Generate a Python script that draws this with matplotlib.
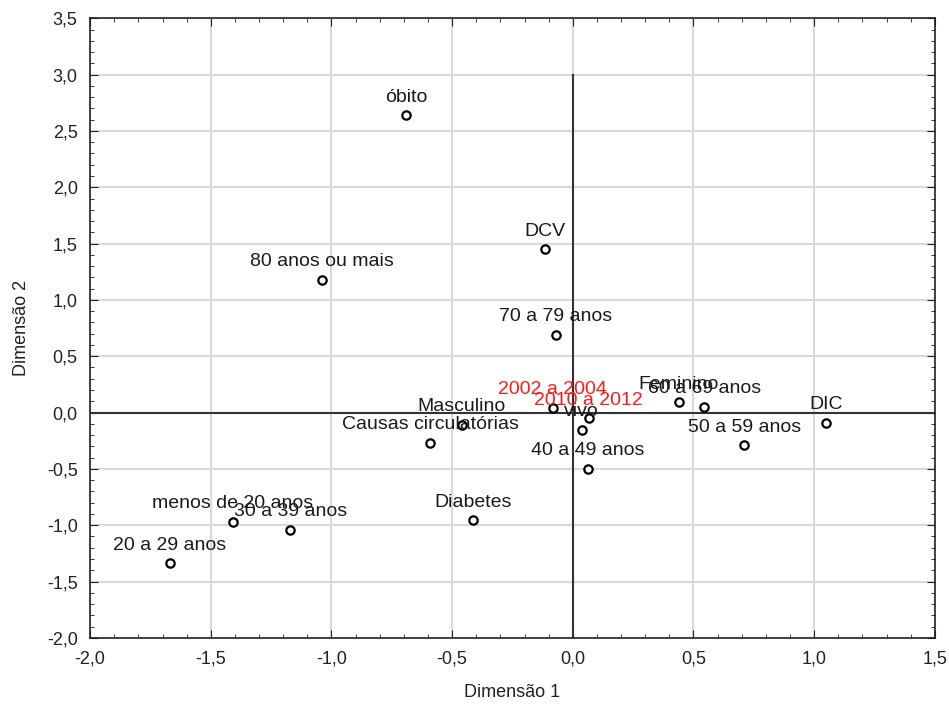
import matplotlib
matplotlib.use("Agg")
import matplotlib.pyplot as plt
from matplotlib.ticker import MultipleLocator, FuncFormatter

plt.rcParams['font.family'] = ['Liberation Sans', 'DejaVu Sans']

# categorias ativas
labels = ["óbito", "vivo", "Masculino", "Feminino",
          "menos de 20 anos", "20 a 29 anos", "30 a 39 anos", "40 a 49 anos",
          "50 a 59 anos", "60 a 69 anos", "70 a 79 anos", "80 anos ou mais",
          "DIC", "DCV", "Diabetes", "Causas circulatórias"]
dim1 = [-0.69, 0.037, -0.46, 0.44,
        -1.41, -1.67, -1.17, 0.063,
        0.71, 0.545, -0.07, -1.04,
        1.05, -0.115, -0.415, -0.59]
dim2 = [2.64, -0.155, -0.11, 0.09,
        -0.97, -1.34, -1.04, -0.50,
        -0.29, 0.05, 0.69, 1.18,
        -0.09, 1.45, -0.955, -0.27]

# categorias suplementares (em vermelho)
sup_labels = ["2002 a 2004", "2010 a 2012"]
sup_dim1 = [-0.083, 0.066]
sup_dim2 = [0.04, -0.05]

fig = plt.figure(figsize=(9.49, 7.04), dpi=100)
ax = fig.add_axes([0.095, 0.094, 0.89, 0.88])

ax.set_xlim(-2.0, 1.5)
ax.set_ylim(-2.0, 3.5)
ax.xaxis.set_major_locator(MultipleLocator(0.5))
ax.yaxis.set_major_locator(MultipleLocator(0.5))
ax.xaxis.set_minor_locator(MultipleLocator(0.1))
ax.yaxis.set_minor_locator(MultipleLocator(0.1))
fmt = FuncFormatter(lambda v, p: f"{v:.1f}".replace(".", ",").replace("-0,0", "0,0"))
ax.xaxis.set_major_formatter(fmt)
ax.yaxis.set_major_formatter(fmt)
ax.tick_params(which='both', direction='in', top=True, right=True, colors='#222222', labelsize=13)
ax.tick_params(which='major', length=6)
ax.tick_params(which='minor', length=3)
ax.tick_params(axis='x', which='major', pad=9)
ax.tick_params(axis='y', which='major', pad=9)

ax.grid(True, which='major', color='#d9d9d9', linewidth=1.5)
ax.set_axisbelow(True)

# eixos de referência
ax.axhline(0, color='#333333', linewidth=1.5, zorder=2)
ax.plot([0, 0], [-2.0, 3.0], color='#333333', linewidth=1.5, zorder=2)

ax.plot(dim1, dim2, 'o', markersize=6, markerfacecolor='white',
        markeredgecolor='black', markeredgewidth=1.6, zorder=3)
ax.plot(sup_dim1, sup_dim2, 'o', markersize=6, markerfacecolor='white',
        markeredgecolor='black', markeredgewidth=1.6, zorder=3)

for name, x, y in zip(labels, dim1, dim2):
    ax.annotate(name, (x, y), xytext=(0, 13), textcoords='offset points',
                ha='center', va='center', fontsize=14, color='#1a1a1a', zorder=4)
for name, x, y in zip(sup_labels, sup_dim1, sup_dim2):
    ax.annotate(name, (x, y), xytext=(0, 13), textcoords='offset points',
                ha='center', va='center', fontsize=14, color='#ff1a1a', zorder=4)

for s in ax.spines.values():
    s.set_color('#222222')
    s.set_linewidth(1.2)

ax.set_xlabel("Dimensão 1", fontsize=13, color='#222222', labelpad=12)
ax.set_ylabel("Dimensão 2", fontsize=13, color='#222222', labelpad=12)

plt.savefig("out.png", dpi=100)
